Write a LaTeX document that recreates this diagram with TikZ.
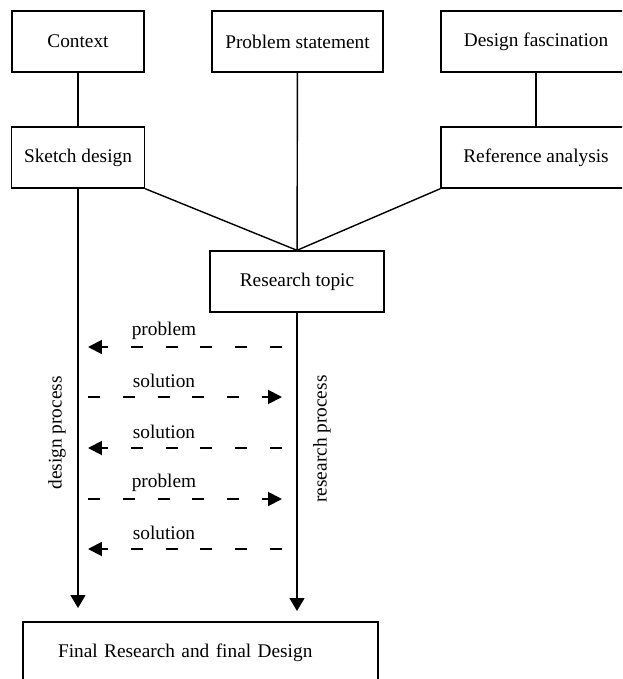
\documentclass[tikz,border=0pt]{standalone}
\usepackage{fontspec}
\setmainfont{Liberation Serif}
\usepackage{tikz}
\usetikzlibrary{arrows.meta}
\usetikzlibrary{positioning}

\tikzset{
  box/.style={draw, line width=0.8pt, minimum height=1.22cm, inner sep=2pt},
  link/.style={line width=0.8pt},
  flow/.style={line width=0.8pt, -{Triangle[length=0.26cm, width=0.3cm]}},
  exch/.style={line width=1.1pt, dash pattern=on 6.8pt off 13pt,
    -{Triangle[length=0.28cm, width=0.28cm]}}
}

\begin{document}
\begin{tikzpicture}[x=0.02cm, y=-0.02cm, font=\fontsize{11}{13}\selectfont]
      \useasboundingbox (0, 0) rectangle (622, 679);
      \clip (0, 0) rectangle (622, 679);

      \node [box, minimum width=2.64cm] (context) at (78, 41.5) {Context};
      \node [box, minimum width=3.42cm] (problem) at (297.5, 41.5) {Problem statement};
      \node [box, minimum width=3.8cm] (fascination) at (536, 41.5) {Design fascination};
      \node [box, minimum width=2.66cm] (sketch) at (78, 157.5) {Sketch design};
      \node [box, minimum width=3.8cm] (reference) at (536, 157.5) {Reference analysis};
      \node [box, minimum width=3.48cm] (topic) at (297, 281.5) {Research topic};
      \node [box, text width=5.7cm, inner xsep=0.7cm, align=left] (final) at (200.5, 652.5) {Final Research and final Design};

      \draw [link] (context) -- (sketch);
      \draw [link] (fascination) -- (reference);
      \draw [link] (problem) -- (topic);
      \draw [link] (sketch.south east) -- (topic.north);
      \draw [link] (reference.south west) -- (topic.north);

      \coordinate (dend) at (78, 608);
      \coordinate (rend) at (297, 611);
      \draw [flow] (sketch) -- (dend);
      \draw [flow] (topic) -- (rend);

      \node [rotate=90] (dproc) at (57, 433) {design process};
      \node [rotate=90] (rproc) at (322, 439) {research process};

      \foreach \y/\lbl/\s/\t in {347/problem/b/a, 397/solution/a/b, 448/solution/b/a,
                                499/problem/a/b, 549/solution/b/a} {
        \coordinate (a\y) at (88, \y);
        \coordinate (b\y) at (282, \y);
        \draw [exch] (\s\y) -- (\t\y);
        \node (l\y) at (164, \y - 16) {\lbl};
      }
    \end{tikzpicture}
\end{document}
